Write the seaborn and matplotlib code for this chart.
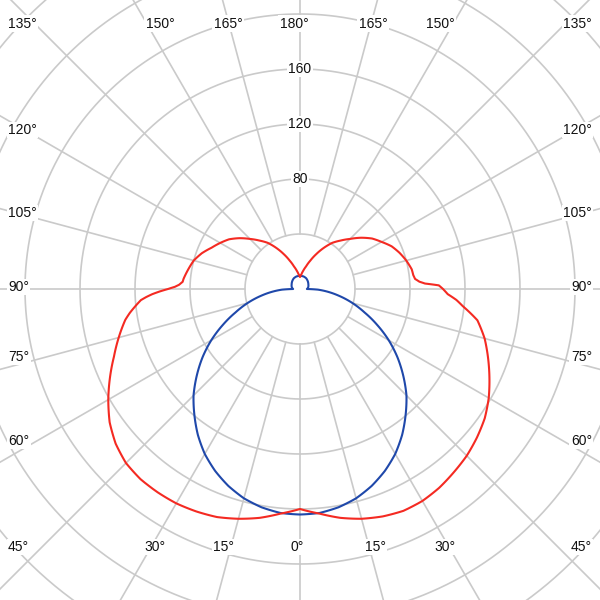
import numpy as np
import pandas as pd
import matplotlib
matplotlib.use("Agg")
import matplotlib.pyplot as plt
import seaborn as sns

# ---------------- data (candela values) ----------------
# C0 plane (right half of the red curve)
red_c0_angles = [0, 5, 10, 15, 20, 25, 30, 35, 40, 45, 50, 55, 60, 65, 70, 75, 80, 84, 86,
                 88, 90, 91.5, 92.5, 93.5, 95, 97, 100, 105, 110, 115, 120, 125, 130, 135,
                 140, 145, 150, 155, 160, 165, 170, 175, 180]
red_c0_values = [160, 164, 169, 173, 176, 178, 178, 176.5, 174, 171.5, 168, 164, 158.5, 152,
                 145.5, 139, 131, 119, 114, 107.5, 104, 101, 91, 87, 84, 83, 82.5, 80, 77,
                 73.5, 68.5, 64, 58, 51.5, 46, 41, 34.5, 28, 22, 17, 13.5, 10.5, 9]
# C180 plane (left half of the red curve)
red_c180_angles = [0, 5, 10, 15, 20, 25, 30, 35, 40, 45, 50, 55, 60, 65, 70, 75, 80, 82, 84,
                   86, 87, 88, 89, 90, 91, 92, 93.5, 95, 97, 100, 105, 110, 115, 120, 125,
                   130, 135, 140, 145, 150, 155, 160, 165, 170, 175, 180]
red_c180_values = [160, 164, 169, 173, 176.5, 178.5, 180, 180.5, 180.5, 179, 175, 169, 161,
                   152.5, 144, 136.5, 129, 125, 120.5, 116, 112, 107.5, 102, 96, 91, 88,
                   85.5, 85, 84, 82.5, 80, 76, 71, 67, 63, 57.5, 51.5, 46, 41, 34.5, 28, 22,
                   17, 13.5, 10.5, 9]
# C90 / C270 plane (blue curve, symmetric)
blue_angles = [0, 5, 10, 15, 20, 25, 30, 35, 40, 45, 50, 55, 60, 65, 70, 75, 80, 85, 87, 88,
               89, 90, 95, 100, 110, 120, 135, 150, 165, 180]
blue_values = [164, 163.5, 161.2, 157.6, 152.4, 146, 138.5, 129.5, 119.5, 109.5, 98, 86.5,
               74.5, 62, 50, 39.5, 29, 19, 15, 13, 9, 5, 5.5, 6, 6.5, 7, 8, 9, 9.5, 9.5]

ring_values = [40, 80, 120, 160, 200, 240, 280, 320]
ring_labels = [80, 120, 160]
spoke_angles = list(range(0, 360, 15))

# ---------------- style ----------------
sns.set_theme(style="white")
plt.rcParams["font.family"] = ["Liberation Sans", "DejaVu Sans"]

GRID = "#cacaca"
RED = "#f42a22"
BLUE = "#1f48aa"
TEXT = "#111111"
PX_PER_UNIT = 1.375
RMAX = 330

fig = plt.figure(figsize=(6, 6), dpi=100)
fig.patch.set_facecolor("white")
cx, cy = 300, 289  # pixel centre (from top-left)
rad_px = RMAX * PX_PER_UNIT
ax = fig.add_axes([(cx - rad_px) / 600, ((600 - cy) - rad_px) / 600,
                   2 * rad_px / 600, 2 * rad_px / 600], projection="polar")
ax.set_theta_zero_location("S")
ax.set_theta_direction(1)
ax.set_ylim(0, RMAX)
ax.set_xticks([])
ax.set_yticks([])
ax.grid(False)
ax.spines["polar"].set_visible(False)
ax.patch.set_alpha(0)

# grid rings
tc = np.linspace(0, 2 * np.pi, 721)
for rv in ring_values:
    ax.plot(tc, np.full_like(tc, rv), color=GRID, lw=1.2, zorder=1)
# spokes
for a in spoke_angles:
    t = np.deg2rad(a)
    ax.plot([t, t], [40, RMAX], color=GRID, lw=1.2, zorder=1)


def curve(right_a, right_v, left_a, left_v):
    ra, rv = np.asarray(right_a, float), np.asarray(right_v, float)
    la, lv = np.asarray(left_a, float), np.asarray(left_v, float)
    th = np.deg2rad(np.concatenate([-la[::-1], ra[1:]]))
    rr = np.concatenate([lv[::-1], rv[1:]])
    return pd.DataFrame({"theta": th, "r": rr})


n_before = len(ax.lines)
blue_df = curve(blue_angles, blue_values, blue_angles, blue_values)
red_df = curve(red_c0_angles, red_c0_values, red_c180_angles, red_c180_values)
sns.lineplot(data=blue_df, x="theta", y="r", sort=False, estimator=None, ax=ax,
             color=BLUE, lw=1.5, zorder=3)
sns.lineplot(data=red_df, x="theta", y="r", sort=False, estimator=None, ax=ax,
             color=RED, lw=1.5, zorder=4)
# let the polar transform follow arcs between the measured points
for ln in ax.lines[n_before:]:
    ln.get_path()._interpolation_steps = 24
    ln.set_data(*ln.get_data())
ax.set_xlabel("")
ax.set_ylabel("")
ax.set_ylim(0, RMAX)

# ring value labels on the 180° spoke
for rv in ring_labels:
    ax.text(np.pi, rv, str(rv), ha="center", va="center", fontsize=10, color=TEXT,
            zorder=5, bbox=dict(fc="white", ec="none", pad=1.0))

# angle labels around the border (pixel layout)
TXT = dict(fontsize=10, color=TEXT, va="center",
           bbox=dict(fc="white", ec="none", pad=1.0), zorder=6)


def lab(x, y, s, ha="center"):
    fig.text(x / 600, 1 - y / 600, s, ha=ha, **TXT)


top = [(8, "135°", "left"), (160, "150°", "center"), (228, "165°", "center"),
       (294, "180°", "center"), (373, "165°", "center"), (440, "150°", "center"),
       (592, "135°", "right")]
for x, s, ha in top:
    lab(x, 23.5, s, ha)

side = [(130, "120°"), (213, "105°"), (287, "90°"), (357, "75°"), (441, "60°")]
for y, s in side:
    lab(8, y, s, "left")
    lab(592, y, s, "right")

bottom = [(8, "45°", "left"), (155, "30°", "center"), (224, "15°", "center"),
          (297, "0°", "center"), (375, "15°", "center"), (445, "30°", "center"),
          (592, "45°", "right")]
for x, s, ha in bottom:
    lab(x, 547, s, ha)

fig.savefig("out.png", dpi=100, facecolor="white")
